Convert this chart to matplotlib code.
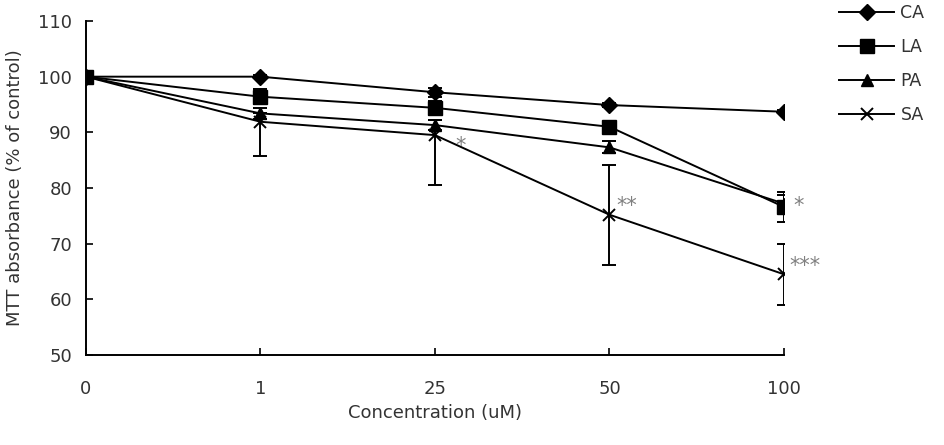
import matplotlib

matplotlib.use("Agg")

import matplotlib.pyplot as plt  # noqa: E402

plt.rcParams["font.family"] = ["DejaVu Sans"]

concentrations = ["0", "1", "25", "50", "100"]

ca_values = [100.0, 100.0, 97.2, 94.9, 93.7]
la_values = [100.0, 96.4, 94.4, 91.0, 76.6]
pa_values = [100.0, 93.4, 91.3, 87.3, 77.2]
sa_values = [100.0, 91.9, 89.5, 75.2, 64.5]

# lower / upper error bar lengths
ca_err = [[0.0, 0.3, 0.8, 0.4, 0.3], [0.0, 0.3, 0.8, 0.4, 0.3]]
la_err = [[0.0, 1.3, 1.2, 0.8, 2.7], [0.0, 1.3, 1.2, 0.8, 2.7]]
pa_err = [[0.0, 1.0, 0.9, 1.1, 1.5], [0.0, 1.0, 0.9, 1.1, 1.5]]
sa_err = [[0.0, 6.2, 8.9, 9.0, 5.5], [0.0, 1.5, 2.7, 9.0, 5.5]]

series_names = ["CA", "LA", "PA", "SA"]

# significance marks: (series, concentration index, label)
significance = [
    ("SA", 2, "*"),
    ("SA", 3, "**"),
    ("LA", 4, "*"),
    ("SA", 4, "***"),
]

values = {"CA": ca_values, "LA": la_values, "PA": pa_values, "SA": sa_values}
errors = {"CA": ca_err, "LA": la_err, "PA": pa_err, "SA": sa_err}
styles = {
    "CA": dict(marker="D", ms=8.5),
    "LA": dict(marker="s", ms=9.5),
    "PA": dict(marker="^", ms=9.0),
    "SA": dict(marker="x", ms=9.0, mew=1.4),
}
# offsets in points, keyed by (series, index)
text_offsets = {
    ("SA", 2): (15, -8),
    ("SA", 3): (5, 6),
    ("LA", 4): (7, 1),
    ("SA", 4): (4, 6),
}

fig = plt.figure(figsize=(9.45, 4.45), dpi=100, facecolor="white")
ax = fig.add_axes([0.091, 0.2022, 0.7386, 0.7506])

x = list(range(len(concentrations)))
handles = []
for name in series_names:
    cont = ax.errorbar(
        x, values[name], yerr=errors[name], color="black", lw=1.4,
        elinewidth=1.4, capsize=5, capthick=1.4,
        mfc="black", mec="black", **styles[name],
    )
    handles.append(cont[0])

for name, i, mark in significance:
    ax.annotate(
        mark, xy=(i, values[name][i]), xytext=text_offsets[(name, i)],
        textcoords="offset points", ha="left", va="center",
        color="#808080", fontsize=15,
    )

ax.set_xlim(0, len(concentrations) - 1)
ax.set_ylim(50, 110)
ax.set_xticks(x)
ax.set_xticklabels(concentrations)
ax.set_yticks(range(50, 111, 10))
ax.tick_params(direction="in", length=5, width=1.2, labelsize=13,
               labelcolor="#333333")
ax.tick_params(axis="x", pad=18)
ax.tick_params(axis="y", pad=10)
for side in ("top", "right"):
    ax.spines[side].set_visible(False)
for side in ("left", "bottom"):
    ax.spines[side].set_linewidth(1.4)

ax.set_xlabel("Concentration (uM)", fontsize=13, color="#333333", labelpad=4)
ax.set_ylabel("MTT absorbance (% of control)", fontsize=13, color="#333333",
              labelpad=10)

leg = fig.legend(
    handles, series_names, loc="upper left", bbox_to_anchor=(0.884, 0.998),
    frameon=False, fontsize=12.5, handlelength=3.2, handletextpad=0.35,
    labelspacing=0.92, borderaxespad=0.0, borderpad=0.2,
)
for t in leg.get_texts():
    t.set_color("#333333")

fig.savefig("out.png", dpi=100, facecolor="white")
